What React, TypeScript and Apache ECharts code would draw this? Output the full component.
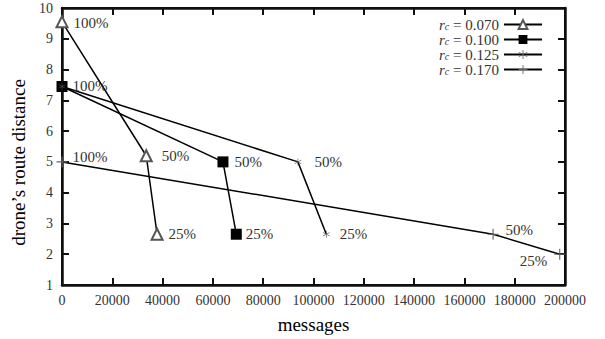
import React, { useEffect, useRef } from "react";
import * as echarts from "echarts";

// Data
const seriesNames = ["0.070", "0.100", "0.125", "0.170"];
const xRc070 = [0, 33500, 37800];
const yRc070 = [9.55, 5.2, 2.65];
const xRc100 = [0, 64000, 69300];
const yRc100 = [7.45, 5.0, 2.65];
const xRc125 = [0, 93800, 105100];
const yRc125 = [7.45, 5.0, 2.65];
const xRc170 = [0, 171400, 197900];
const yRc170 = [5.0, 2.65, 2.0];
const pointLabels = ["100%", "50%", "25%"];
const xTicks = { min: 0, max: 200000, interval: 20000 };
const yTicks = { min: 1, max: 10, interval: 1 };

const FONT = "'Liberation Serif', 'DejaVu Serif', serif";
const AXIS_COLOR = "rgb(16,16,16)";

// label placement per series per point: [dx, dy, position]
const labelPlacement: Array<Array<[number, number, string] | null>> = [
  [[2, 1, "right"], [6, 0, "right"], [2, 0, "right"]],
  [[2, 0, "right"], [3, 0, "right"], [1, 0, "right"]],
  [null, [10, 0, "right"], [7, 0, "right"]],
  [[2, -5, "right"], [4, -4, "right"], [-4, 7, "left"]],
];

const ASTERISK = "path://M-0.4,-5h0.8v10h-0.8zM-4.5,-2.2L-4.1,-2.9L4.5,2.2L4.1,2.9zM-4.5,2.2L-4.1,2.9L4.5,-2.2L4.1,-2.9z";
const PLUS = "path://M-0.5,-5h1v10h-1zM-5,-0.5h10v1h-10z";

export default function App() {
  const ref = useRef<HTMLDivElement>(null);
  useEffect(() => {
    if (!ref.current) return;
    const chart = echarts.init(ref.current, undefined, { renderer: "svg" });
    const xs = [xRc070, xRc100, xRc125, xRc170];
    const ys = [yRc070, yRc100, yRc125, yRc170];
    const symbols: any[] = [
      { symbol: "emptyTriangle", symbolSize: 11, itemStyle: { color: "#555", borderColor: "#555", borderWidth: 1 } },
      { symbol: "rect", symbolSize: 11, itemStyle: { color: "#000" } },
      { symbol: ASTERISK, symbolSize: 7, itemStyle: { color: "#555" } },
      { symbol: PLUS, symbolSize: 11, itemStyle: { color: "#666" } },
    ];
    const series = seriesNames.map((n, si) => ({
      name: n,
      type: "line",
      xAxisIndex: 0,
      yAxisIndex: 0,
      ...symbols[si],
      showSymbol: true,
      lineStyle: { color: "#000", width: 1.5 },
      data: xs[si].map((x, i) => {
        const p = labelPlacement[si][i];
        return {
          value: [x, ys[si][i]],
          label: p
            ? {
                show: true,
                formatter: pointLabels[i],
                position: p[2],
                offset: [p[0], p[1]],
                distance: 3,
                color: "#333",
                fontFamily: FONT,
                fontSize: 15,
              }
            : { show: false },
        };
      }),
    }));
    const line = () => ({ show: true, onZero: false, lineStyle: { color: AXIS_COLOR, width: 2.5 } });
    const tick = () => ({ show: true, inside: true, length: 7, lineStyle: { color: AXIS_COLOR, width: 2 } });
    chart.setOption({
      animation: false,
      grid: { left: 62, right: 40, top: 8, bottom: 52, show: true, borderColor: "#000", borderWidth: 2, backgroundColor: "transparent" },
      legend: {
        orient: "vertical",
        right: 57,
        top: 12,
        align: "right",
        itemWidth: 38,
        itemHeight: 11,
        itemGap: 0,
        data: seriesNames,
        formatter: (n: string) => `{r|r}{c|c}{t| = ${n}}`,
        textStyle: {
          fontFamily: FONT,
          color: "#333",
          lineHeight: 14,
          rich: {
            r: { fontFamily: FONT, fontStyle: "italic", fontSize: 15, color: "#333", lineHeight: 14 },
            c: { fontFamily: FONT, fontStyle: "italic", fontSize: 10, color: "#333", lineHeight: 14, verticalAlign: "bottom" },
            t: { fontFamily: FONT, fontSize: 15, color: "#333", lineHeight: 14 },
          },
        },
      },
      xAxis: [
        {
          type: "value",
          position: "bottom",
          ...xTicks,
          axisLine: line(),
          axisTick: tick(),
          splitLine: { show: false },
          name: "messages",
          nameLocation: "middle",
          nameGap: 30,
          nameTextStyle: { fontFamily: FONT, fontSize: 19, color: "#000" },
          axisLabel: { fontFamily: FONT, fontSize: 14, color: "#333", margin: 8, formatter: (v: number) => String(v) },
        },
        {
          type: "value",
          position: "top",
          ...xTicks,
          axisLine: line(),
          axisTick: tick(),
          splitLine: { show: false },
          axisLabel: { show: false },
        },
      ],
      yAxis: [
        {
          type: "value",
          position: "left",
          ...yTicks,
          axisLine: line(),
          axisTick: tick(),
          splitLine: { show: false },
          name: "drone\u2019s route distance",
          nameLocation: "middle",
          nameGap: 32,
          nameTextStyle: { fontFamily: FONT, fontSize: 19, color: "#000", padding: [0, 32, 0, 0] },
          axisLabel: { fontFamily: FONT, fontSize: 14, color: "#333", margin: 9 },
        },
        {
          type: "value",
          position: "right",
          ...yTicks,
          axisLine: line(),
          axisTick: tick(),
          splitLine: { show: false },
          axisLabel: { show: false },
        },
      ],
      series,
    });
    return () => chart.dispose();
  }, []);
  return <div ref={ref} style={{ width: 605, height: 339, position: "absolute", left: 0, top: 0 }} />;
}
